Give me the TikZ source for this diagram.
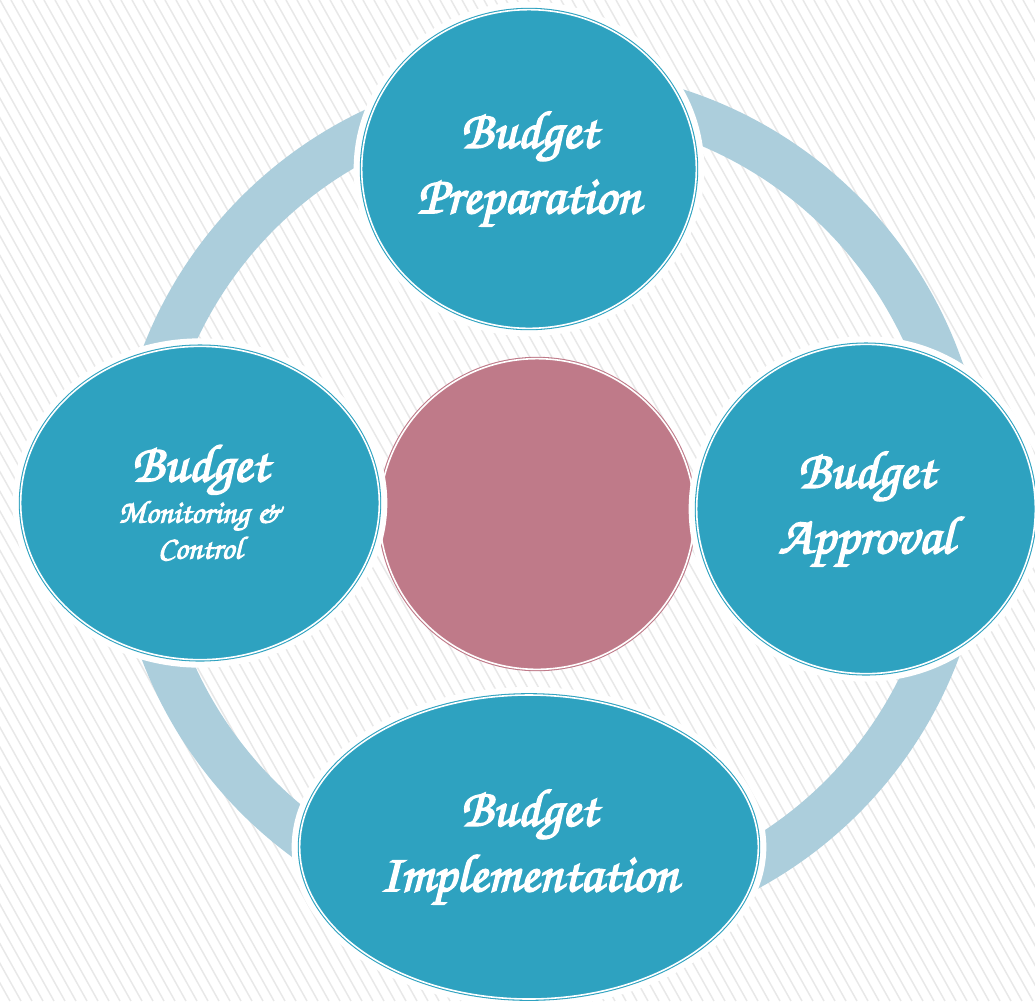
\documentclass[tikz,border=0pt]{standalone}
\usepackage{fontspec}
\usepackage{tikz}
\usetikzlibrary{shapes.geometric}

\newfontfamily\stagefont{texgyrechorus-mediumitalic.otf}[FakeBold=3]

\definecolor{budteal}{RGB}{46,162,192}
\definecolor{budpink}{RGB}{191,122,137}
\definecolor{budring}{RGB}{172,206,220}
\definecolor{budstripe}{RGB}{232,232,232}

\tikzset{
  stage/.style={ellipse, fill=budteal, draw=budteal, line width=0.8pt,
    double=white, double distance=1.2pt, inner sep=0pt, align=center,
    text=white, font=\stagefont\fontsize{40}{49}\selectfont},
  core/.style={stage, fill=budpink, draw=budpink},
  halo/.style={ellipse, fill=white, inner sep=0pt},
  stripe/.style={draw=budstripe, line width=1.1pt},
  ring/.style={draw=budring, line width=35pt}
}

\begin{document}
\begin{tikzpicture}[x=0.75pt,y=0.75pt,yscale=-1,xscale=1]

            \useasboundingbox (0,0) rectangle (1035,1001);

            % Striped background
            \begin{scope}
              \clip (0,0) rectangle (1035,1001);
              \fill[white] (0,0) rectangle (1035,1001);
              \foreach \i in {-52,...,95}
                \draw[stripe] (\i*11,0) -- ++(560,1001);
            \end{scope}

            % Cycle ring
            \draw[ring] (550,505) circle [radius=413];

            % Centre
            \node[core, minimum width=236pt, minimum height=233pt] (hub) at (537,514) {};

            % Stages, each on a white halo
            \node[halo, minimum width=263pt, minimum height=251pt] (prep-halo) at (529,169) {};
            \node[stage, minimum width=251pt, minimum height=239pt] (prep) at (529,169) {Budget\\Preparation};

            \node[halo, minimum width=266pt, minimum height=259pt] (appr-halo) at (866,509) {};
            \node[stage, minimum width=254pt, minimum height=247pt] (appr) at (866,509) {Budget\\Approval};

            \node[halo, minimum width=281pt, minimum height=247pt] (ctrl-halo) at (200,503) {};
            \node[stage, minimum width=269pt, minimum height=235pt] (ctrl) at (200,503)
              {Budget\\[-18pt]{\fontsize{24}{28}\selectfont Monitoring \&}\\[-22pt]{\fontsize{24}{28}\selectfont Control}};

            \node[halo, minimum width=356pt, minimum height=240pt] (impl-halo) at (529,847) {};
            \node[stage, minimum width=344pt, minimum height=228pt] (impl) at (529,847) {Budget\\Implementation};

\end{tikzpicture}
\end{document}
